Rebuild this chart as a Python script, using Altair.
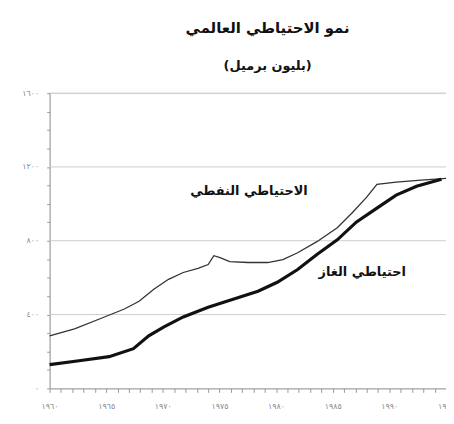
import altair as alt
import pandas as pd

oil_years = [1960, 1962.2, 1964.4, 1966.6, 1967.9, 1969.2, 1970.5, 1971.8, 1973.1, 1974.0, 1974.5,
             1975.05, 1975.9, 1977.5, 1979.25, 1980.6, 1981.9, 1983.6, 1985.4, 1986.7, 1988.0,
             1988.9, 1990.6, 1992.8, 1995]
oil_values = [285, 322, 376, 430, 472, 537, 591, 628, 650, 671, 719, 709, 687, 682, 682, 698,
              735, 795, 870, 950, 1036, 1106, 1117, 1128, 1138]

gas_years = [1960, 1962.6, 1965.25, 1967.4, 1968.75, 1970.1, 1971.8, 1974, 1976.2, 1978.4,
             1980.1, 1981.9, 1983.6, 1985.4, 1987.1, 1988.9, 1990.6, 1992.4, 1994.6]
gas_values = [129, 150, 172, 215, 285, 333, 387, 440, 483, 526, 575, 644, 725, 805, 902, 977,
              1047, 1095, 1133]

grid_values = [400, 800, 1200, 1600]
y_labels = {0: "٠", 400: "٤٠٠", 800: "٨٠٠", 1200: "١٢٠٠", 1600: "١٦٠٠"}
x_labels = {1960: "١٩٦٠", 1965: "١٩٦٥", 1970: "١٩٧٠", 1975: "١٩٧٥", 1980: "١٩٨٠",
            1985: "١٩٨٥", 1990: "١٩٩٠", 1995: "١٩٩٥"}

label_text = ["الاحتياطي النفطي", "احتياطي الغاز"]
label_year = [1977.6, 1987.6]
label_value = [1070, 630]

title = "نمو الاحتياطي العالمي"
subtitle = "(بليون برميل)"

FONT = "DejaVu Sans"

def expr_map(d):
    parts = "".join(f"datum.value == {k} ? '{v}' : " for k, v in d.items())
    return parts + "''"

oil = pd.DataFrame({"year": oil_years, "value": oil_values, "series": "oil"})
gas = pd.DataFrame({"year": gas_years, "value": gas_values, "series": "gas"})

xscale = alt.Scale(domain=[1960, 1995], nice=False, zero=False)
yscale = alt.Scale(domain=[0, 1600], nice=False)

xaxis = alt.Axis(values=list(range(1960, 1996)), labelExpr=expr_map(x_labels), grid=False,
                 title=None, domain=True, domainColor="#999", tickColor="#999", tickSize=4,
                 labelColor="#888", labelFontSize=8, labelFont=FONT, labelPadding=10,
                 labelFlush=False, labelOverlap=False)
yaxis = alt.Axis(values=list(range(0, 1601, 100)), labelExpr=expr_map(y_labels), grid=False,
                 title=None, domainColor="#999", tickColor="#999", tickSize=3,
                 labelColor="#888", labelFontSize=8, labelFont=FONT, labelPadding=8)

grid = alt.Chart(pd.DataFrame({"v": grid_values})).mark_rule(color="#ccc", strokeWidth=1).encode(
    y=alt.Y("v:Q", scale=yscale, axis=yaxis)
)

oil_line = alt.Chart(oil).mark_line(color="#333", strokeWidth=1.3).encode(
    x=alt.X("year:Q", scale=xscale, axis=xaxis),
    y=alt.Y("value:Q", scale=yscale, axis=yaxis),
)
gas_line = alt.Chart(gas).mark_line(color="#111", strokeWidth=3.2).encode(
    x=alt.X("year:Q", scale=xscale, axis=xaxis),
    y=alt.Y("value:Q", scale=yscale, axis=yaxis),
)

labels = alt.Chart(pd.DataFrame({"t": label_text, "year": label_year, "value": label_value})).mark_text(
    font=FONT, fontSize=13, fontWeight="bold", color="#111"
).encode(
    x=alt.X("year:Q", scale=xscale, axis=xaxis),
    y=alt.Y("value:Q", scale=yscale, axis=yaxis),
    text="t:N",
)

chart = alt.layer(grid, oil_line, gas_line, labels).properties(
    width=400, height=298,
    autosize=alt.AutoSizeParams(type="none"),
    padding={"left": 42, "top": 84, "right": 0, "bottom": 26},
    title=alt.TitleParams(
        text=title, subtitle=subtitle, anchor="middle", dx=20,
        font=FONT, fontSize=15, fontWeight="bold", color="#111",
        subtitleFont=FONT, subtitleFontSize=13, subtitleFontWeight="bold", subtitleColor="#111",
        subtitlePadding=25, offset=16,
    ),
).configure_view(stroke=None).configure(background="white")

chart.save("out.html", embed_options={"renderer": "svg", "actions": False})
